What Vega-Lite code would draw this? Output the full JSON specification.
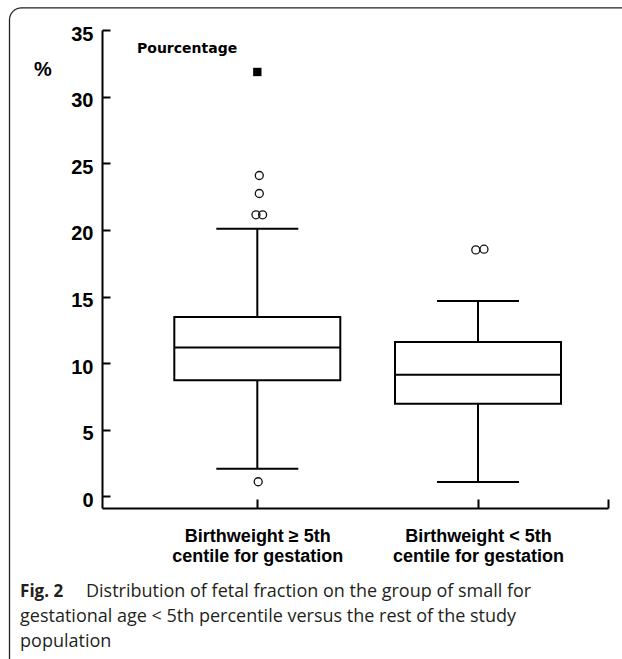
{
  "$schema": "https://vega.github.io/schema/vega-lite/v6.json",
  "width": 506,
  "height": 478,
  "autosize": {"type": "none"},
  "padding": {"left": 102, "top": 30, "right": 14, "bottom": 151},
  "background": "white",
  "config": {"view": {"stroke": null}},
  "datasets": {
    "stats": [
      {"pos": 1, "lo": 2.08, "q1": 8.72, "med": 11.18, "q3": 13.46, "hi": 20.08},
      {"pos": 2, "lo": 1.08, "q1": 6.95, "med": 9.13, "q3": 11.58, "hi": 14.66}
    ],
    "outliers": [
      {"pos": 1.009, "value": 24.08},
      {"pos": 1.009, "value": 22.73},
      {"pos": 0.994, "value": 21.13},
      {"pos": 1.024, "value": 21.13},
      {"pos": 1.004, "value": 1.1},
      {"pos": 1.99, "value": 18.5},
      {"pos": 2.027, "value": 18.55}
    ],
    "extremes": [
      {"pos": 1.0, "value": 31.85}
    ],
    "frame": [
      {"x": -0.1228, "x2": 3.2, "y": 36.66, "y2": -25}
    ],
    "notes": [
      {"x": 0.455, "y": 33.6, "text": "Pourcentage"}
    ],
    "pct": [
      {"x": 0.029, "y": 32.0, "text": "%"}
    ],
    "fig": [
      {"x": -0.075, "y": -7.52, "text": "Fig. 2"}
    ],
    "caption": [
      {"x": 0.2237, "y": -7.52, "text": "Distribution of fetal fraction on the group of small for"},
      {"x": -0.075, "y": -9.4, "text": "gestational age < 5th percentile versus the rest of the study"},
      {"x": -0.075, "y": -11.28, "text": "population"}
    ]
  },
  "layer": [
    {
      "data": {"name": "stats"},
      "mark": {"type": "rule", "stroke": "black", "strokeWidth": 2},
      "encoding": {
        "x": {
          "field": "pos",
          "type": "quantitative",
          "title": null,
          "scale": {"domain": [0.2963, 2.589], "nice": false, "zero": false, "padding": 0},
          "axis": {
            "title": null,
            "values": [1, 2, 2.589],
            "labelExpr": "datum.value < 1.5 ? ['Birthweight ≥ 5th', 'centile for gestation'] : (datum.value < 2.5 ? ['Birthweight < 5th', 'centile for gestation'] : '')",
            "grid": false,
            "domainColor": "black",
            "domainWidth": 2,
            "tickColor": "black",
            "tickWidth": 2,
            "tickSize": -9,
            "labelFont": "Liberation Sans",
            "labelFontWeight": "bold",
            "labelFontSize": 18,
            "labelColor": "black",
            "labelPadding": 28,
            "labelLineHeight": 20,
            "labelBaseline": "top",
            "labelFlush": false,
            "labelOverlap": false
          }
        },
        "y": {
          "field": "lo",
          "type": "quantitative",
          "title": null,
          "scale": {"domain": [-0.87, 35], "nice": false, "zero": false, "padding": 0},
          "axis": {
            "title": null,
            "values": [0, 5, 10, 15, 20, 25, 30, 35],
            "grid": false,
            "domainColor": "black",
            "domainWidth": 2,
            "tickColor": "black",
            "tickWidth": 2,
            "tickSize": -8,
            "labelFont": "Liberation Sans",
            "labelFontWeight": "bold",
            "labelFontSize": 20,
            "labelColor": "black",
            "labelPadding": 17,
            "labelOffset": 4
          }
        },
        "y2": {"field": "hi"}
      }
    },
    {
      "data": {"name": "frame"},
      "mark": {"type": "rect", "fill": null, "stroke": "#222", "strokeWidth": 1.3, "cornerRadius": 12},
      "encoding": {
        "x": {"field": "x", "type": "quantitative", "title": null},
        "x2": {"field": "x2"},
        "y": {"field": "y", "type": "quantitative", "title": null},
        "y2": {"field": "y2"}
      }
    },
    {
      "data": {"name": "stats"},
      "mark": {"type": "bar", "width": 166, "fill": "white", "stroke": "black", "strokeWidth": 2},
      "encoding": {
        "x": {"field": "pos", "type": "quantitative", "title": null},
        "y": {"field": "q1", "type": "quantitative", "title": null},
        "y2": {"field": "q3"}
      }
    },
    {
      "data": {"name": "stats"},
      "mark": {"type": "tick", "orient": "horizontal", "size": 166, "thickness": 2, "color": "black", "opacity": 1},
      "encoding": {
        "x": {"field": "pos", "type": "quantitative", "title": null},
        "y": {"field": "med", "type": "quantitative", "title": null}
      }
    },
    {
      "data": {"name": "stats"},
      "mark": {"type": "tick", "orient": "horizontal", "size": 82, "thickness": 2, "color": "black", "opacity": 1},
      "encoding": {
        "x": {"field": "pos", "type": "quantitative", "title": null},
        "y": {"field": "lo", "type": "quantitative", "title": null}
      }
    },
    {
      "data": {"name": "stats"},
      "mark": {"type": "tick", "orient": "horizontal", "size": 82, "thickness": 2, "color": "black", "opacity": 1},
      "encoding": {
        "x": {"field": "pos", "type": "quantitative", "title": null},
        "y": {"field": "hi", "type": "quantitative", "title": null}
      }
    },
    {
      "data": {"name": "outliers"},
      "mark": {"type": "point", "shape": "circle", "filled": false, "stroke": "#111", "strokeWidth": 1.3, "size": 64, "opacity": 1},
      "encoding": {
        "x": {"field": "pos", "type": "quantitative", "title": null},
        "y": {"field": "value", "type": "quantitative", "title": null}
      }
    },
    {
      "data": {"name": "extremes"},
      "mark": {"type": "point", "shape": "square", "filled": true, "fill": "black", "size": 70, "opacity": 1},
      "encoding": {
        "x": {"field": "pos", "type": "quantitative", "title": null},
        "y": {"field": "value", "type": "quantitative", "title": null}
      }
    },
    {
      "data": {"name": "notes"},
      "mark": {"type": "text", "font": "DejaVu Sans", "fontWeight": "bold", "fontSize": 14, "align": "left", "baseline": "middle", "color": "black"},
      "encoding": {
        "x": {"field": "x", "type": "quantitative", "title": null},
        "y": {"field": "y", "type": "quantitative", "title": null},
        "text": {"field": "text"}
      }
    },
    {
      "data": {"name": "pct"},
      "mark": {"type": "text", "font": "Liberation Sans", "fontWeight": "bold", "fontSize": 20, "align": "center", "baseline": "middle", "color": "black"},
      "encoding": {
        "x": {"field": "x", "type": "quantitative", "title": null},
        "y": {"field": "y", "type": "quantitative", "title": null},
        "text": {"field": "text"}
      }
    },
    {
      "data": {"name": "fig"},
      "mark": {"type": "text", "font": "Open Sans", "fontWeight": "bold", "fontSize": 17, "align": "left", "baseline": "alphabetic", "color": "#231f20"},
      "encoding": {
        "x": {"field": "x", "type": "quantitative", "title": null},
        "y": {"field": "y", "type": "quantitative", "title": null},
        "text": {"field": "text"}
      }
    },
    {
      "data": {"name": "caption"},
      "mark": {"type": "text", "font": "Open Sans", "fontSize": 18, "align": "left", "baseline": "alphabetic", "color": "#231f20"},
      "encoding": {
        "x": {"field": "x", "type": "quantitative", "title": null},
        "y": {"field": "y", "type": "quantitative", "title": null},
        "text": {"field": "text"}
      }
    }
  ]
}
